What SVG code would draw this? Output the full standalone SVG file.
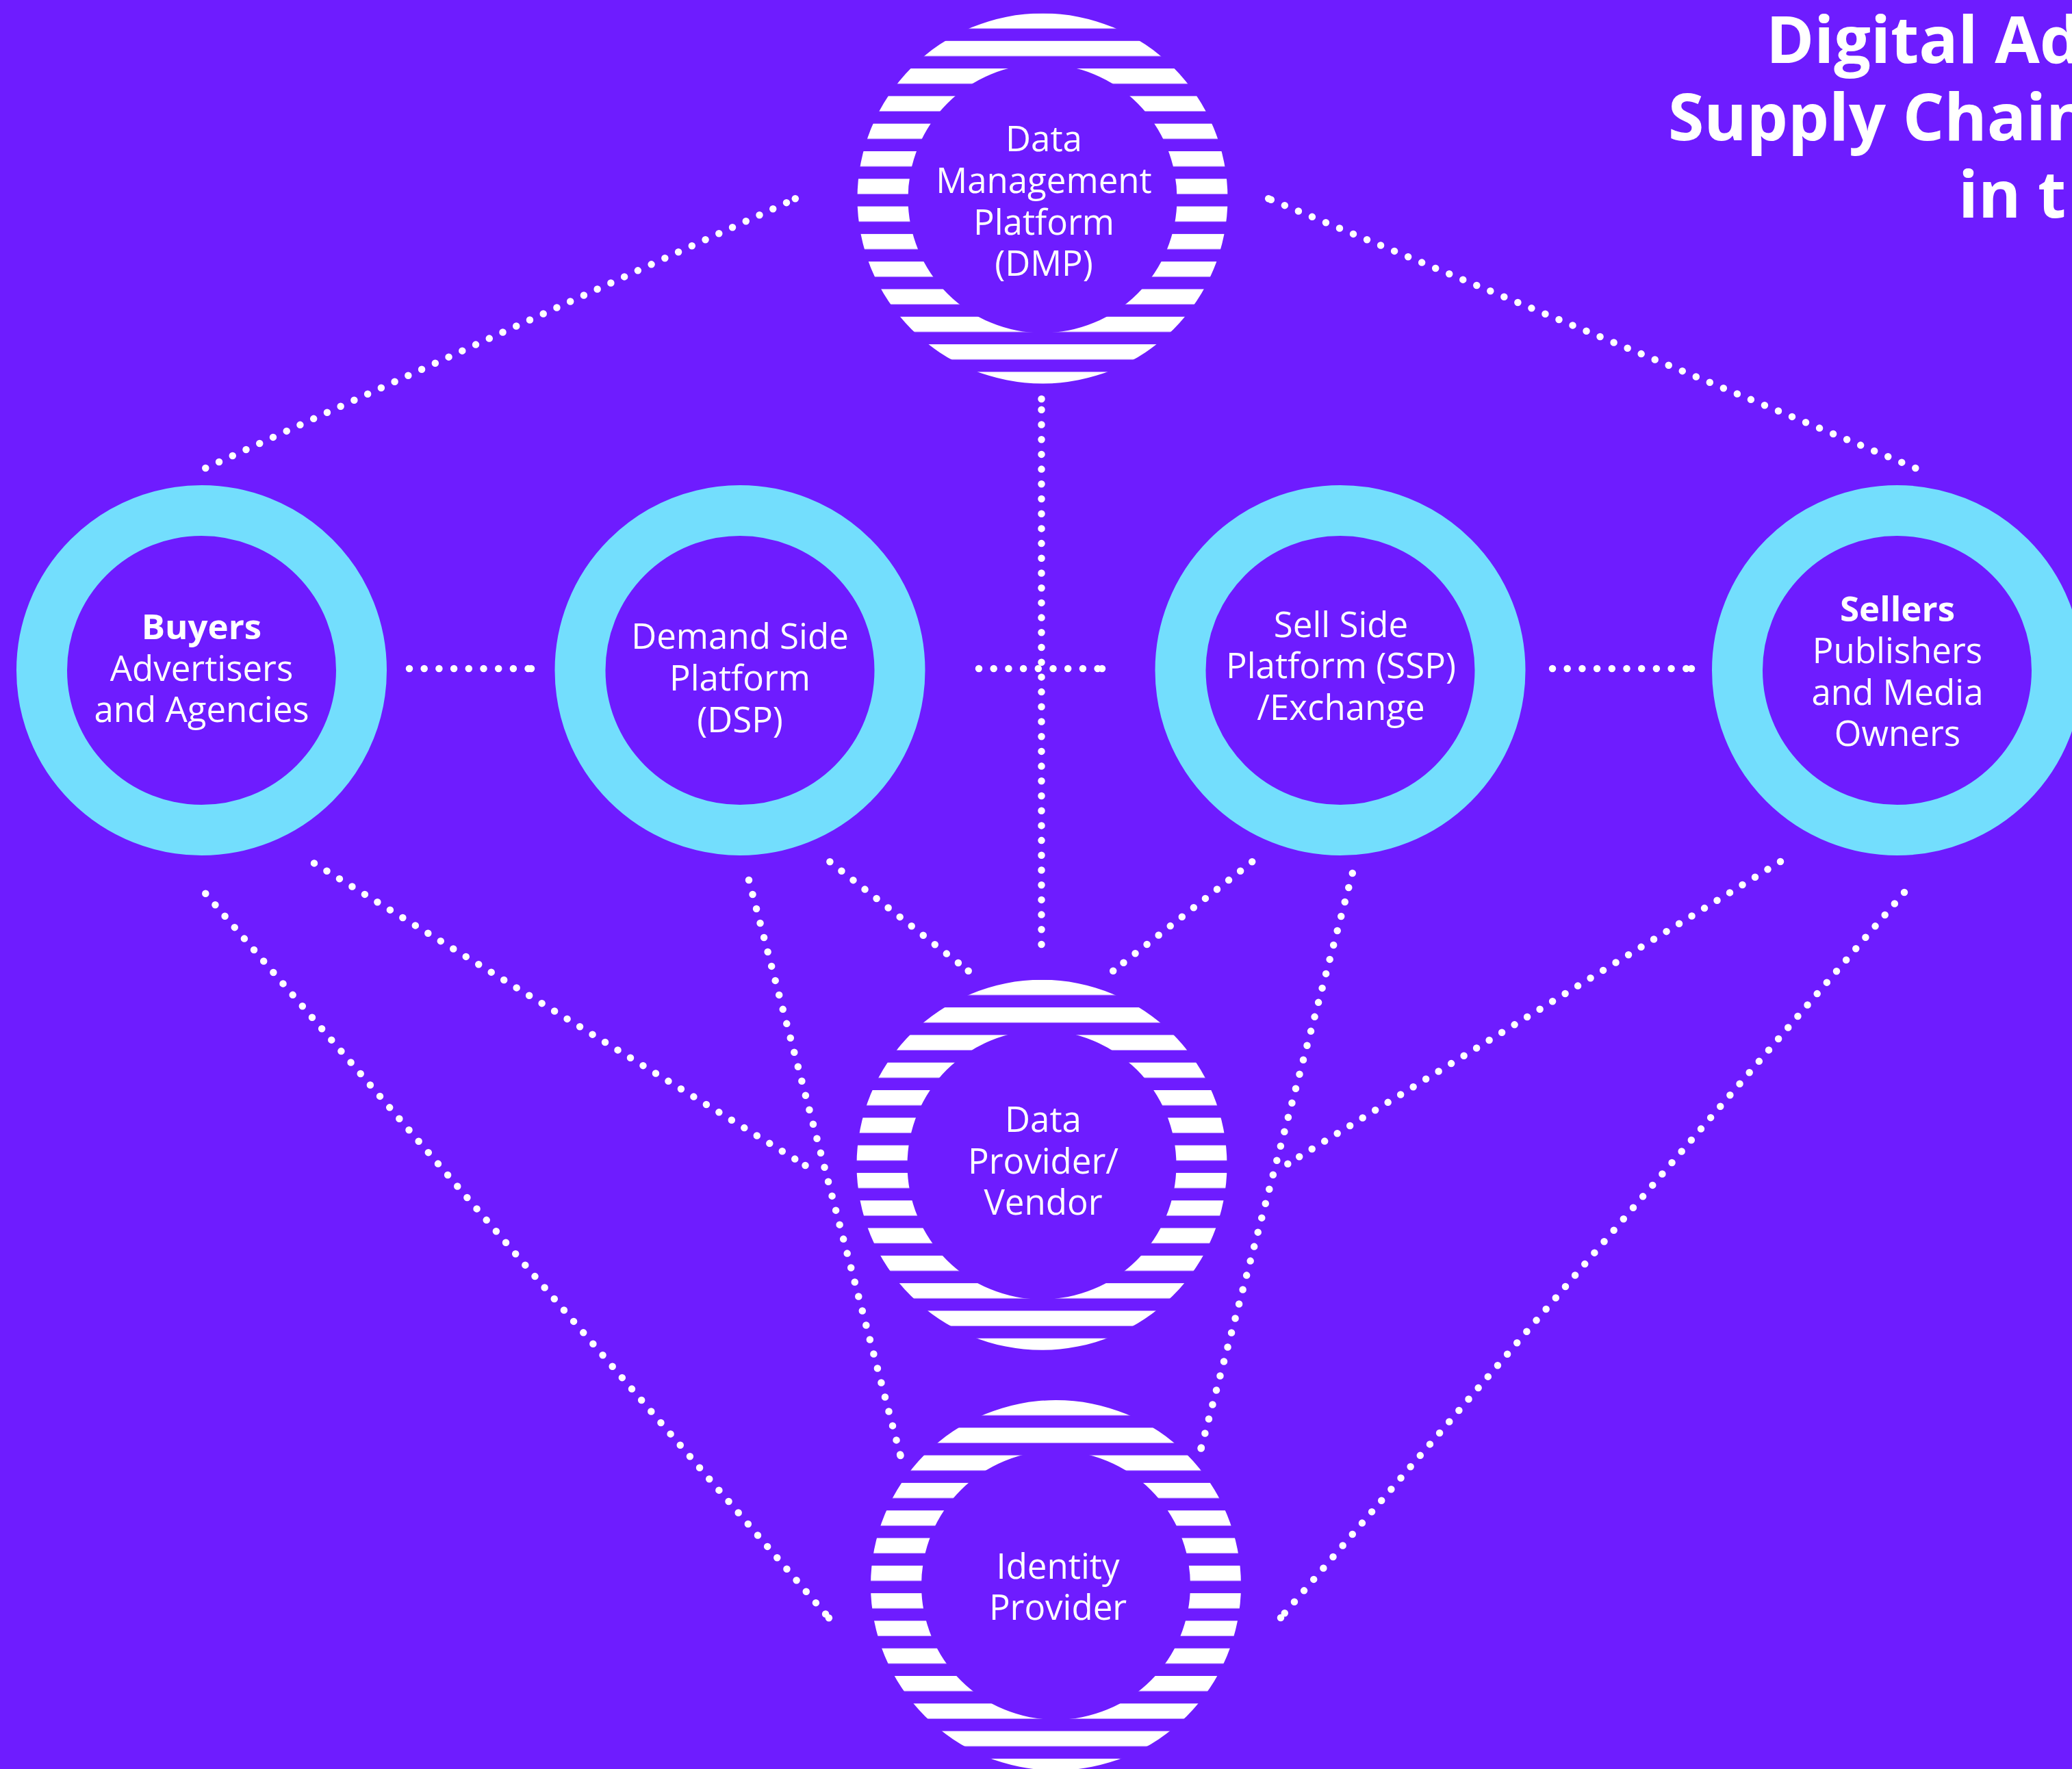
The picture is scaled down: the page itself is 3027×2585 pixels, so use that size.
<svg xmlns="http://www.w3.org/2000/svg" xmlns:xlink="http://www.w3.org/1999/xlink" width="3027" height="2585" viewBox="0 0 3027 2585">
<style>
.bg{fill:#6E1CFF}
.ring{fill:none;stroke:#73DEFD;stroke-width:74}
.lbl{font-family:"Open Sans","Noto Sans","Liberation Sans",sans-serif;font-size:51px;fill:#fff;text-anchor:middle}
.b{font-weight:700}
.title{font-family:"Open Sans","Noto Sans","Liberation Sans",sans-serif;font-size:95px;font-weight:700;fill:#fff}
.dots{fill:none;stroke:#fff;stroke-width:10.5;stroke-linecap:round;stroke-dasharray:0 21.7;marker-end:url(#dot)}
</style>
<defs>
<pattern id="stripes" patternUnits="userSpaceOnUse" x="0" y="-270.5" width="20" height="40.3">
<rect x="0" y="0" width="20" height="22.2" fill="#fff"/>
</pattern>
<g id="stripedRing">
<path fill="url(#stripes)" fill-rule="evenodd" d="M-270.5,0a270.5,270.5 0 1,0 541,0a270.5,270.5 0 1,0 -541,0ZM-196.5,0a196.5,196.5 0 1,0 393,0a196.5,196.5 0 1,0 -393,0Z"/>
</g>
<marker id="dot" markerUnits="userSpaceOnUse" markerWidth="12" markerHeight="12" refX="6" refY="6" overflow="visible">
<circle cx="6" cy="6" r="5.25" fill="#fff"/>
</marker>
</defs>
<rect class="bg" x="0" y="0" width="3027" height="2585"/>

<g id="connectors">
<path class="dots" d="M300.3,684L1161.8,290.3"/>
<path class="dots" d="M2798.3,684L1853.2,290.3"/>
<path class="dots" d="M1521.5,1380L1521.5,583"/>
<path class="dots" d="M598,977L776,977"/>
<path class="dots" d="M1430,977L1610,977"/>
<path class="dots" d="M2268,977L2471,977"/>
<path class="dots" d="M459,1261.4L1176.5,1703"/>
<path class="dots" d="M1094,1286L1315.5,2127"/>
<path class="dots" d="M300.3,1305.8L1210.9,2364.2"/>
<path class="dots" d="M1212.4,1259.3L1414.7,1418.7"/>
<path class="dots" d="M1829.2,1259.3L1626.2,1418.7"/>
<path class="dots" d="M1975.8,1276L1754.6,2116.5"/>
<path class="dots" d="M2601,1259L1881.3,1700.7"/>
<path class="dots" d="M2782,1304L1871,2364"/>
</g>

<g id="title">
<text class="title" x="2580" y="92">Digital Ad</text>
<text class="title" x="2437" y="205">Supply Chain</text>
<text class="title" x="2861" y="318">in t</text>
</g>

<g id="dmp">
<use xlink:href="#stripedRing" href="#stripedRing" transform="translate(1523,290)"/>
<text class="lbl" x="1525" y="221">Data</text>
<text class="lbl" x="1525" y="282">Management</text>
<text class="lbl" x="1525" y="342.5">Platform</text>
<text class="lbl" x="1525" y="403">(DMP)</text>
</g>

<g id="buyers">
<circle class="ring" cx="294.5" cy="979.5" r="233.5"/>
<text class="lbl b" x="294.5" y="934">Buyers</text>
<text class="lbl" x="294.5" y="995">Advertisers</text>
<text class="lbl" x="294.5" y="1055">and Agencies</text>
</g>

<g id="dsp">
<circle class="ring" cx="1081" cy="979.5" r="233.5"/>
<text class="lbl" x="1081" y="948">Demand Side</text>
<text class="lbl" x="1081" y="1009">Platform</text>
<text class="lbl" x="1081" y="1070">(DSP)</text>
</g>

<g id="ssp">
<circle class="ring" cx="1958" cy="979.5" r="233.5"/>
<text class="lbl" x="1959" y="930.5">Sell Side</text>
<text class="lbl" x="1959" y="991">Platform (SSP)</text>
<text class="lbl" x="1959" y="1052">/Exchange</text>
</g>

<g id="sellers">
<circle class="ring" cx="2771.5" cy="979.5" r="233.5"/>
<text class="lbl b" x="2772" y="908">Sellers</text>
<text class="lbl" x="2772" y="969">Publishers</text>
<text class="lbl" x="2772" y="1029.5">and Media</text>
<text class="lbl" x="2772" y="1090">Owners</text>
</g>

<g id="dataProvider">
<use xlink:href="#stripedRing" href="#stripedRing" transform="translate(1522,1702.3)"/>
<text class="lbl" x="1524" y="1654">Data</text>
<text class="lbl" x="1524" y="1715">Provider/</text>
<text class="lbl" x="1524" y="1775">Vendor</text>
</g>

<g id="identityProvider">
<use xlink:href="#stripedRing" href="#stripedRing" transform="translate(1542.5,2316.5)"/>
<text class="lbl" x="1545.5" y="2307">Identity</text>
<text class="lbl" x="1545.5" y="2367">Provider</text>
</g>
</svg>
